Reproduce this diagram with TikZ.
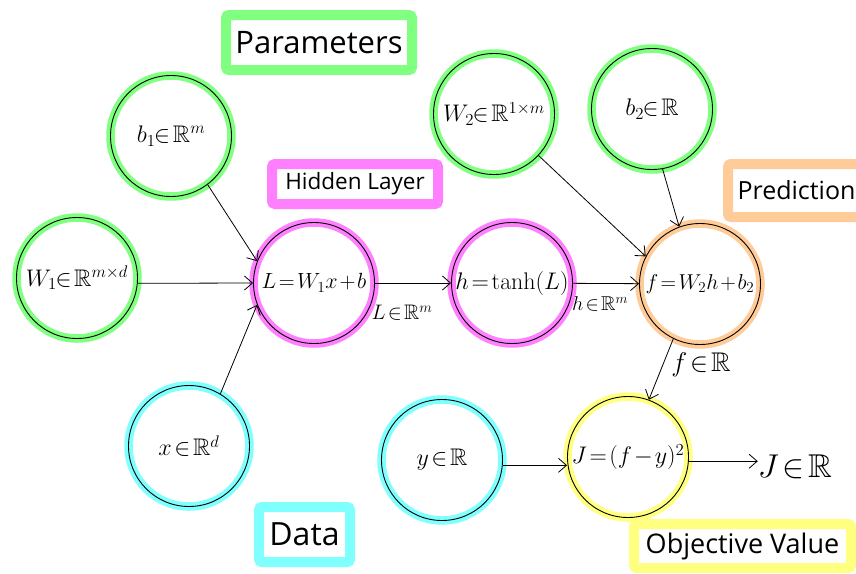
\documentclass[tikz,border=0pt]{standalone}
\usepackage{fix-cm}
\usepackage{amssymb}
\usepackage[no-math]{fontspec}
\setmainfont{Open Sans}
\usetikzlibrary{arrows.meta}
\definecolor{pgreen}{HTML}{80FF80}
\definecolor{ppink}{HTML}{FF80FF}
\definecolor{porange}{HTML}{FFCC99}
\definecolor{pcyan}{HTML}{80FFFF}
\definecolor{pyellow}{HTML}{FFFF80}
\begin{document}
\begin{tikzpicture}[x=1pt,y=-1pt,
  var/.style={circle, minimum size=121pt, inner sep=0pt, draw=black, line width=0.9pt,
    preaction={draw=#1, line width=8.5pt}, font=\fontsize{24}{28}\selectfont},
  tag/.style={rectangle, draw=#1, line width=10pt, rounded corners=3pt, inner sep=0pt},
  arr/.style={draw=black, line width=0.8pt, -{Straight Barb[length=8pt,width=14pt]}},
  elab/.style={inner sep=0pt}
]
\thickmuskip=2mu \medmuskip=1.5mu
\clip (0,0) rectangle (856,573);
\fill[white] (0,0) rectangle (856,573);

% label boxes
\node[tag=pgreen, minimum width=186pt, minimum height=55pt, font=\fontsize{31}{36}\selectfont] (params) at (319,42.5) {Parameters};
\node[tag=ppink, minimum width=166pt, minimum height=40pt, font=\fontsize{22.5}{26}\selectfont] (hidden) at (355,184) {Hidden Layer};
\node[tag=porange, minimum width=137pt, minimum height=53pt, font=\fontsize{25}{30}\selectfont] (pred) at (796.5,190.5) {Prediction};
\node[tag=pcyan, minimum width=91pt, minimum height=55pt, font=\fontsize{32}{36}\selectfont] (data) at (304.5,534.5) {Data};
\node[tag=pyellow, minimum width=217pt, minimum height=44pt, font=\fontsize{27}{31}\selectfont] (obj) at (742.5,546) {Objective Value};

% variable circles
\node[var=pgreen] (b1) at (171,136) {$b_1\!\in\mathbb{R}^m$};
\node[var=pgreen] (W1) at (77,278) {$W_1\!\in\mathbb{R}^{m\times d}$};
\node[var=ppink, font=\fontsize{22}{26}\selectfont] (L) at (314,283) {$L=W_1x+b$};
\node[var=ppink] (h) at (512,283) {$h=\tanh(L)$};
\node[var=porange, font=\fontsize{21.5}{26}\selectfont] (f) at (700,284) {$f=W_2h+b_2$};
\node[var=pgreen] (W2) at (494,114) {$W_2\!\in\mathbb{R}^{1\times m}$};
\node[var=pgreen] (b2) at (652,109) {$b_2\!\in\mathbb{R}$};
\node[var=pcyan] (x) at (189,446) {$x\in\mathbb{R}^d$};
\node[var=pcyan] (y) at (442,460) {$y\in\mathbb{R}$};
\node[var=pyellow] (J) at (628,457) {$J=(f-y)^2$};

% edge labels and output
\node[elab, font=\fontsize{21}{25}\selectfont] (lL) at (402,313) {$L\in\mathbb{R}^m$};
\node[elab, font=\fontsize{20}{24}\selectfont] (lh) at (600,304) {$h\in\mathbb{R}^m$};
\node[elab, font=\fontsize{27}{31}\selectfont] (lf) at (701,365) {$f\in\mathbb{R}$};
\node[elab, font=\fontsize{33}{37}\selectfont] (Jout) at (795,467) {$J\in\mathbb{R}$};

% connectors
\draw[arr] (b1.-53) -- (L.159);
\draw[arr] (W1.-5) -- (L.west);
\draw[arr] (x.59) -- (L.201);
\draw[arr] (L) -- (h);
\draw[arr] (h) -- (f);
\draw[arr] (W2.-43) -- (f.153);
\draw[arr] (b2.-80) -- (f.110);
\draw[arr] (f.244) -- (J.70);
\draw[arr] (y.-5) -- (y.-5 -| J.west);
\draw[arr] (J.-4) -- (Jout.west |- J.-4);
\end{tikzpicture}
\end{document}
